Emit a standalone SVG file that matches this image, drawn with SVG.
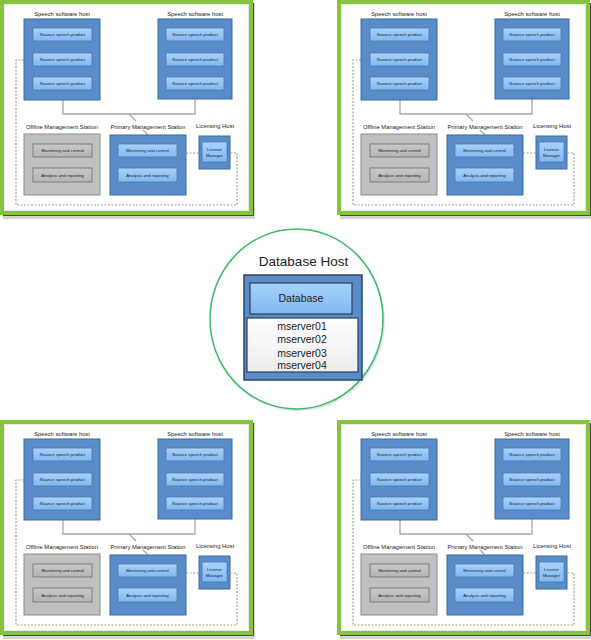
<svg xmlns="http://www.w3.org/2000/svg" width="591" height="640" viewBox="0 0 591 640">
<defs>
<linearGradient id="gItem" x1="0" y1="0" x2="0" y2="1"><stop offset="0" stop-color="#a8d2fb"/><stop offset="1" stop-color="#80b8f2"/></linearGradient>
<linearGradient id="gGray" x1="0" y1="0" x2="0" y2="1"><stop offset="0" stop-color="#c8c8c8"/><stop offset="1" stop-color="#b4b4b4"/></linearGradient>
<linearGradient id="gWhite" x1="0" y1="0" x2="0" y2="1"><stop offset="0" stop-color="#ffffff"/><stop offset="1" stop-color="#ececec"/></linearGradient>
<style>
text{font-family:"Liberation Sans",Arial,sans-serif;fill:#222;text-anchor:middle}
.lbl{font-size:5.8px}
.sm{font-size:4.3px}
.shadow{fill:#d4d4d4}
.frame{fill:#fff;stroke:#86c440;stroke-width:4}
.edge{fill:none;stroke:#4a4a4a;stroke-width:1}
.inner{fill:none;stroke:#d0d0d0;stroke-width:0.6}
.host{fill:#5b8cca;stroke:#3d6ba3;stroke-width:1}
.item{fill:url(#gItem);stroke:#4a78b0;stroke-width:0.8}
.ghost{fill:#c0c0c0;stroke:#8c8c8c;stroke-width:1}
.gitem{fill:url(#gGray);stroke:#6e6e6e;stroke-width:0.8}
.solid{fill:none;stroke:#a6a6a6;stroke-width:1.3}
.dash{fill:none;stroke:#a0a0a0;stroke-width:1.2;stroke-dasharray:2 1.5}
</style>
</defs>

<!-- ============ TOP LEFT ============ -->
<g id="panel-tl" transform="translate(0,0)">
<g id="tl-frame">
<rect class="shadow" x="3" y="3" width="252" height="216"/>
<rect class="frame" x="2" y="2" width="249" height="211"/>
<path class="edge" d="M253.5,3 V215.5 H3"/>
<rect class="inner" x="4.8" y="4.8" width="243.4" height="205.4"/>
</g>
<g id="tl-connectors">
<path class="solid" d="M63,100 V114 H195 V99"/>
<path class="solid" d="M129,114 L136,121 M143,130 L148,135"/>
<path class="dash" d="M24,60 H16 V205 H237 V153 H230"/>
<path class="dash" d="M186,153 H199"/>
</g>
<g id="tl-speech-host-1">
<text class="lbl" x="62" y="16">Speech software host</text>
<rect class="host" x="24" y="19" width="76" height="81"/>
<rect class="item" x="33" y="28" width="59" height="13"/><text class="sm" x="62.5" y="36">Nuance speech product</text>
<rect class="item" x="33" y="53" width="59" height="13"/><text class="sm" x="62.5" y="61">Nuance speech product</text>
<rect class="item" x="33" y="77" width="59" height="13"/><text class="sm" x="62.5" y="85">Nuance speech product</text>
</g>
<g id="tl-speech-host-2">
<text class="lbl" x="195" y="16">Speech software host</text>
<rect class="host" x="158" y="19" width="74" height="80"/>
<rect class="item" x="166" y="28" width="58" height="13"/><text class="sm" x="195" y="36">Nuance speech product</text>
<rect class="item" x="166" y="53" width="58" height="13"/><text class="sm" x="195" y="61">Nuance speech product</text>
<rect class="item" x="166" y="77" width="58" height="13"/><text class="sm" x="195" y="85">Nuance speech product</text>
</g>
<g id="tl-offline-station">
<text class="lbl" x="62" y="129">Offline Management Station</text>
<rect class="ghost" x="24" y="134" width="76" height="61"/>
<rect class="gitem" x="33" y="144" width="59" height="13"/><text class="sm" x="62.5" y="152">Monitoring and control</text>
<rect class="gitem" x="33" y="168" width="59" height="14"/><text class="sm" x="62.5" y="176.5">Analysis and reporting</text>
</g>
<g id="tl-primary-station">
<text class="lbl" x="148" y="129">Primary Management Station</text>
<rect class="host" x="110" y="135" width="76" height="60"/>
<rect class="item" x="118" y="144" width="59" height="13"/><text class="sm" x="147.5" y="152">Monitoring and control</text>
<rect class="item" x="118" y="168" width="59" height="14"/><text class="sm" x="147.5" y="176.5">Analysis and reporting</text>
</g>
<g id="tl-licensing-host">
<text class="lbl" x="215" y="128">Licensing Host</text>
<rect class="host" x="199" y="136" width="31" height="33"/>
<rect class="item" x="202" y="142" width="25" height="20"/>
<text class="sm" x="214.5" y="151">License</text><text class="sm" x="214.5" y="157">Manager</text>
</g>
</g>

<!-- ============ TOP RIGHT ============ -->
<g id="panel-tr" transform="translate(337,0)">
<g id="tr-frame">
<rect class="shadow" x="3" y="3" width="252" height="216"/>
<rect class="frame" x="2" y="2" width="249" height="211"/>
<path class="edge" d="M253.5,3 V215.5 H3"/>
<rect class="inner" x="4.8" y="4.8" width="243.4" height="205.4"/>
</g>
<g id="tr-connectors">
<path class="solid" d="M63,100 V114 H195 V99"/>
<path class="solid" d="M129,114 L136,121 M143,130 L148,135"/>
<path class="dash" d="M24,60 H16 V205 H237 V153 H230"/>
<path class="dash" d="M186,153 H199"/>
</g>
<g id="tr-speech-host-1">
<text class="lbl" x="62" y="16">Speech software host</text>
<rect class="host" x="24" y="19" width="76" height="81"/>
<rect class="item" x="33" y="28" width="59" height="13"/><text class="sm" x="62.5" y="36">Nuance speech product</text>
<rect class="item" x="33" y="53" width="59" height="13"/><text class="sm" x="62.5" y="61">Nuance speech product</text>
<rect class="item" x="33" y="77" width="59" height="13"/><text class="sm" x="62.5" y="85">Nuance speech product</text>
</g>
<g id="tr-speech-host-2">
<text class="lbl" x="195" y="16">Speech software host</text>
<rect class="host" x="158" y="19" width="74" height="80"/>
<rect class="item" x="166" y="28" width="58" height="13"/><text class="sm" x="195" y="36">Nuance speech product</text>
<rect class="item" x="166" y="53" width="58" height="13"/><text class="sm" x="195" y="61">Nuance speech product</text>
<rect class="item" x="166" y="77" width="58" height="13"/><text class="sm" x="195" y="85">Nuance speech product</text>
</g>
<g id="tr-offline-station">
<text class="lbl" x="62" y="129">Offline Management Station</text>
<rect class="ghost" x="24" y="134" width="76" height="61"/>
<rect class="gitem" x="33" y="144" width="59" height="13"/><text class="sm" x="62.5" y="152">Monitoring and control</text>
<rect class="gitem" x="33" y="168" width="59" height="14"/><text class="sm" x="62.5" y="176.5">Analysis and reporting</text>
</g>
<g id="tr-primary-station">
<text class="lbl" x="148" y="129">Primary Management Station</text>
<rect class="host" x="110" y="135" width="76" height="60"/>
<rect class="item" x="118" y="144" width="59" height="13"/><text class="sm" x="147.5" y="152">Monitoring and control</text>
<rect class="item" x="118" y="168" width="59" height="14"/><text class="sm" x="147.5" y="176.5">Analysis and reporting</text>
</g>
<g id="tr-licensing-host">
<text class="lbl" x="215" y="128">Licensing Host</text>
<rect class="host" x="199" y="136" width="31" height="33"/>
<rect class="item" x="202" y="142" width="25" height="20"/>
<text class="sm" x="214.5" y="151">License</text><text class="sm" x="214.5" y="157">Manager</text>
</g>
</g>

<!-- ============ BOTTOM LEFT ============ -->
<g id="panel-bl" transform="translate(0,420)">
<g id="bl-frame">
<rect class="shadow" x="3" y="3" width="252" height="216"/>
<rect class="frame" x="2" y="2" width="249" height="211"/>
<path class="edge" d="M253.5,3 V215.5 H3"/>
<rect class="inner" x="4.8" y="4.8" width="243.4" height="205.4"/>
</g>
<g id="bl-connectors">
<path class="solid" d="M63,100 V114 H195 V99"/>
<path class="solid" d="M129,114 L136,121 M143,130 L148,135"/>
<path class="dash" d="M24,60 H16 V205 H237 V153 H230"/>
<path class="dash" d="M186,153 H199"/>
</g>
<g id="bl-speech-host-1">
<text class="lbl" x="62" y="16">Speech software host</text>
<rect class="host" x="24" y="19" width="76" height="81"/>
<rect class="item" x="33" y="28" width="59" height="13"/><text class="sm" x="62.5" y="36">Nuance speech product</text>
<rect class="item" x="33" y="53" width="59" height="13"/><text class="sm" x="62.5" y="61">Nuance speech product</text>
<rect class="item" x="33" y="77" width="59" height="13"/><text class="sm" x="62.5" y="85">Nuance speech product</text>
</g>
<g id="bl-speech-host-2">
<text class="lbl" x="195" y="16">Speech software host</text>
<rect class="host" x="158" y="19" width="74" height="80"/>
<rect class="item" x="166" y="28" width="58" height="13"/><text class="sm" x="195" y="36">Nuance speech product</text>
<rect class="item" x="166" y="53" width="58" height="13"/><text class="sm" x="195" y="61">Nuance speech product</text>
<rect class="item" x="166" y="77" width="58" height="13"/><text class="sm" x="195" y="85">Nuance speech product</text>
</g>
<g id="bl-offline-station">
<text class="lbl" x="62" y="129">Offline Management Station</text>
<rect class="ghost" x="24" y="134" width="76" height="61"/>
<rect class="gitem" x="33" y="144" width="59" height="13"/><text class="sm" x="62.5" y="152">Monitoring and control</text>
<rect class="gitem" x="33" y="168" width="59" height="14"/><text class="sm" x="62.5" y="176.5">Analysis and reporting</text>
</g>
<g id="bl-primary-station">
<text class="lbl" x="148" y="129">Primary Management Station</text>
<rect class="host" x="110" y="135" width="76" height="60"/>
<rect class="item" x="118" y="144" width="59" height="13"/><text class="sm" x="147.5" y="152">Monitoring and control</text>
<rect class="item" x="118" y="168" width="59" height="14"/><text class="sm" x="147.5" y="176.5">Analysis and reporting</text>
</g>
<g id="bl-licensing-host">
<text class="lbl" x="215" y="128">Licensing Host</text>
<rect class="host" x="199" y="136" width="31" height="33"/>
<rect class="item" x="202" y="142" width="25" height="20"/>
<text class="sm" x="214.5" y="151">License</text><text class="sm" x="214.5" y="157">Manager</text>
</g>
</g>

<!-- ============ BOTTOM RIGHT ============ -->
<g id="panel-br" transform="translate(337,420)">
<g id="br-frame">
<rect class="shadow" x="3" y="3" width="252" height="216"/>
<rect class="frame" x="2" y="2" width="249" height="211"/>
<path class="edge" d="M253.5,3 V215.5 H3"/>
<rect class="inner" x="4.8" y="4.8" width="243.4" height="205.4"/>
</g>
<g id="br-connectors">
<path class="solid" d="M63,100 V114 H195 V99"/>
<path class="solid" d="M129,114 L136,121 M143,130 L148,135"/>
<path class="dash" d="M24,60 H16 V205 H237 V153 H230"/>
<path class="dash" d="M186,153 H199"/>
</g>
<g id="br-speech-host-1">
<text class="lbl" x="62" y="16">Speech software host</text>
<rect class="host" x="24" y="19" width="76" height="81"/>
<rect class="item" x="33" y="28" width="59" height="13"/><text class="sm" x="62.5" y="36">Nuance speech product</text>
<rect class="item" x="33" y="53" width="59" height="13"/><text class="sm" x="62.5" y="61">Nuance speech product</text>
<rect class="item" x="33" y="77" width="59" height="13"/><text class="sm" x="62.5" y="85">Nuance speech product</text>
</g>
<g id="br-speech-host-2">
<text class="lbl" x="195" y="16">Speech software host</text>
<rect class="host" x="158" y="19" width="74" height="80"/>
<rect class="item" x="166" y="28" width="58" height="13"/><text class="sm" x="195" y="36">Nuance speech product</text>
<rect class="item" x="166" y="53" width="58" height="13"/><text class="sm" x="195" y="61">Nuance speech product</text>
<rect class="item" x="166" y="77" width="58" height="13"/><text class="sm" x="195" y="85">Nuance speech product</text>
</g>
<g id="br-offline-station">
<text class="lbl" x="62" y="129">Offline Management Station</text>
<rect class="ghost" x="24" y="134" width="76" height="61"/>
<rect class="gitem" x="33" y="144" width="59" height="13"/><text class="sm" x="62.5" y="152">Monitoring and control</text>
<rect class="gitem" x="33" y="168" width="59" height="14"/><text class="sm" x="62.5" y="176.5">Analysis and reporting</text>
</g>
<g id="br-primary-station">
<text class="lbl" x="148" y="129">Primary Management Station</text>
<rect class="host" x="110" y="135" width="76" height="60"/>
<rect class="item" x="118" y="144" width="59" height="13"/><text class="sm" x="147.5" y="152">Monitoring and control</text>
<rect class="item" x="118" y="168" width="59" height="14"/><text class="sm" x="147.5" y="176.5">Analysis and reporting</text>
</g>
<g id="br-licensing-host">
<text class="lbl" x="215" y="128">Licensing Host</text>
<rect class="host" x="199" y="136" width="31" height="33"/>
<rect class="item" x="202" y="142" width="25" height="20"/>
<text class="sm" x="214.5" y="151">License</text><text class="sm" x="214.5" y="157">Manager</text>
</g>
</g>

<!-- ============ DATABASE HOST ============ -->
<g id="database-host">
<ellipse cx="298" cy="321" rx="87" ry="90" fill="#e4e4e4"/>
<ellipse cx="296.5" cy="319" rx="86.5" ry="90" fill="#fff" stroke="#3dbb68" stroke-width="1.5"/>
<text x="303.5" y="266" style="font-size:13.5px">Database Host</text>
<rect x="244" y="275" width="118" height="105" fill="#5b8cca" stroke="#2c4866" stroke-width="1.5"/>
<rect x="250" y="283" width="102" height="31" fill="url(#gItem)" stroke="#2b3f57" stroke-width="1.2"/>
<text x="301" y="302" style="font-size:10.5px">Database</text>
<rect x="247" y="318" width="111" height="54" fill="url(#gWhite)" stroke="#2b3f57" stroke-width="1.2"/>
<text x="302" y="329.5" style="font-size:10.5px">mserver01</text>
<text x="302" y="343" style="font-size:10.5px">mserver02</text>
<text x="302" y="356.5" style="font-size:10.5px">mserver03</text>
<text x="302" y="369" style="font-size:10.5px">mserver04</text>
</g>
</svg>
